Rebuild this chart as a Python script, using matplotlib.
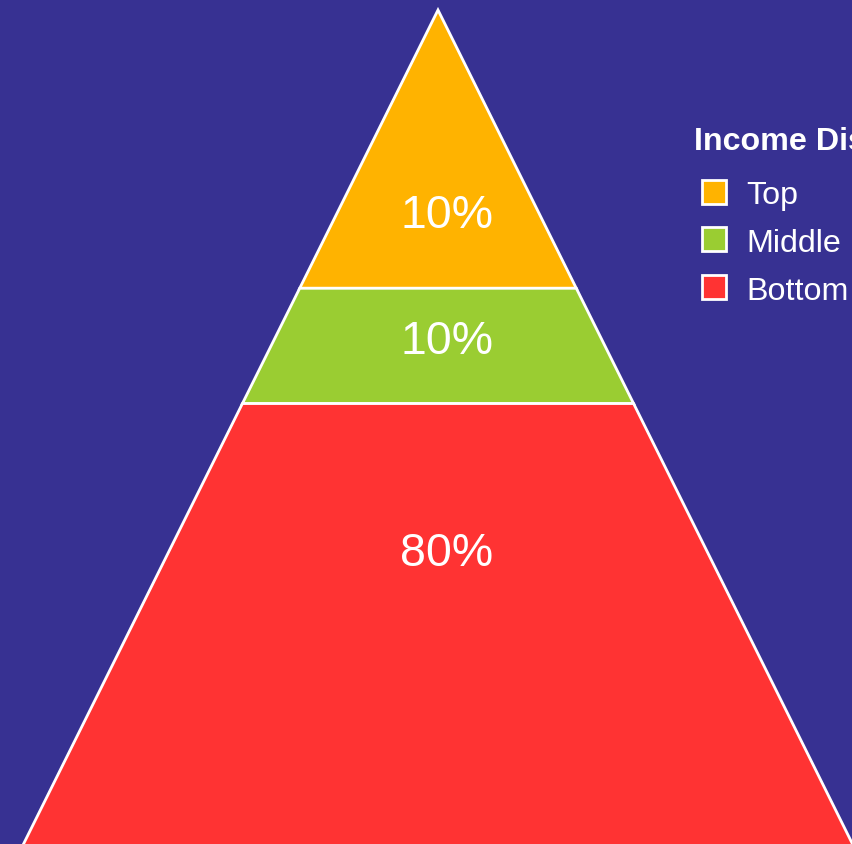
import matplotlib
matplotlib.use("Agg")
import matplotlib.pyplot as plt
from matplotlib.patches import Polygon
from matplotlib.lines import Line2D
import numpy as np

# Income distribution shares (percent), from the apex down
categories = ["Top", "Middle", "Bottom"]
shares = [10, 10, 80]
value_labels = ["10%", "10%", "80%"]
colors = ["#FFB300", "#9ACD32", "#FF3333"]

background = "#373192"
plt.rcParams["font.family"] = ["Liberation Sans", "DejaVu Sans"]

fig = plt.figure(figsize=(8.53, 8.44), dpi=100)
fig.patch.set_facecolor(background)
ax = fig.add_axes([0, 0, 1, 1])
ax.set_facecolor(background)

# Pyramid geometry: unit height, each slice's area proportional to its share
half_base = 0.497
cum = np.cumsum([0] + shares) / float(sum(shares))
depths = np.sqrt(cum)

# Vertical position of each label inside its slice (fraction of slice height)
label_frac = [0.74, 0.47, 0.31]

for i, (cat, col) in enumerate(zip(categories, colors)):
    d0, d1 = depths[i], depths[i + 1]
    w0, w1 = half_base * d0, half_base * d1
    poly = Polygon([(-w0, d0), (w0, d0), (w1, d1), (-w1, d1)], closed=True,
                   facecolor=col, edgecolor="white", linewidth=2.0,
                   joinstyle="miter")
    ax.add_patch(poly)
    yl = d0 + label_frac[i] * (d1 - d0)
    ax.annotate(value_labels[i], (0, yl), xytext=(6.5, 0),
                textcoords="offset points", ha="center", va="center",
                color="white", fontsize=33.5)

# View window (apex near the top edge, base running off the bottom)
scale = 880.0
ax.set_xlim(-438 / scale, 415 / scale)
ax.set_ylim(834 / scale, -10 / scale)
ax.axis("off")

# Legend: bold title followed by the slice swatches
fig.text(694 / 853, 1 - 142 / 844, "Income Distribution", ha="left",
         va="center", color="white", fontsize=23.2, fontweight="bold")

handles = [Line2D([], [], linestyle="none", marker="s", markersize=17,
                  markerfacecolor=c, markeredgecolor="white",
                  markeredgewidth=2) for c in colors]
leg = ax.legend(handles, categories,
                loc="upper left", bbox_to_anchor=(694 / 853, 1 - 179 / 844),
                frameon=False, fontsize=23.2,
                labelcolor="white", handlelength=1.27, handleheight=1.0,
                handletextpad=0.36, labelspacing=0.47, borderpad=0,
                borderaxespad=0)

fig.savefig("out.png", dpi=100, facecolor=background)
